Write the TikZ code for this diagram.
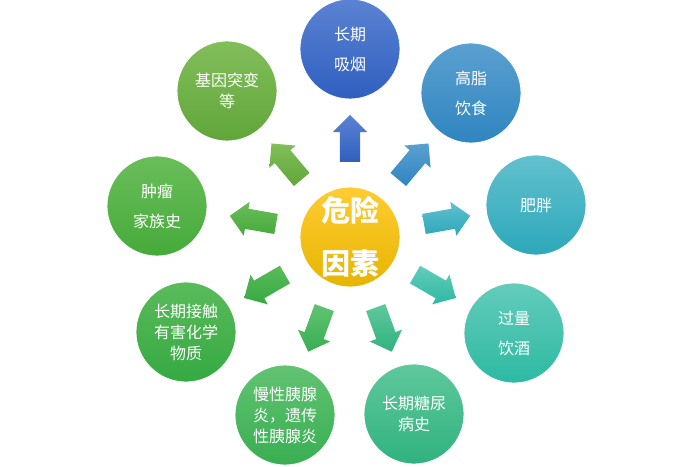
\documentclass[tikz,border=0pt]{standalone}
\usepackage{fontspec}
\newfontfamily\cjk{Noto Sans CJK SC}
\usetikzlibrary{shapes.arrows}
\definecolor{c0t}{HTML}{FFCC33}\definecolor{c0b}{HTML}{E6B500}
\definecolor{c1t}{HTML}{5B83D3}\definecolor{c1b}{HTML}{2F5FC0}
\definecolor{c2t}{HTML}{5AA0D0}\definecolor{c2b}{HTML}{2F85C0}
\definecolor{c3t}{HTML}{62C0CE}\definecolor{c3b}{HTML}{2CA8BA}
\definecolor{c4t}{HTML}{64CCBB}\definecolor{c4b}{HTML}{2DB9A2}
\definecolor{c5t}{HTML}{5FC89C}\definecolor{c5b}{HTML}{30B27E}
\definecolor{c6t}{HTML}{62C372}\definecolor{c6b}{HTML}{38AE52}
\definecolor{c7t}{HTML}{5ABB5A}\definecolor{c7b}{HTML}{35A942}
\definecolor{c8t}{HTML}{6ABE5A}\definecolor{c8b}{HTML}{45AA3A}
\definecolor{c9t}{HTML}{82BE5A}\definecolor{c9b}{HTML}{60A63A}
\tikzset{
  outer/.style={circle, minimum size=100pt, inner sep=0pt, draw=white, line width=0.8pt,
    text=white, align=center, font=\cjk\fontsize{16}{30}\selectfont},
  tight/.style={font=\cjk\fontsize{16}{21}\selectfont},
  arrowbox/.style={single arrow, single arrow head extend=7pt, minimum height=47pt,
    inner xsep=0pt, inner ysep=10pt, draw=none},
}
\begin{document}
\begin{tikzpicture}[x=1pt,y=1pt]
\useasboundingbox (0,0) rectangle (700,466);
\node[outer, top color=c0t, bottom color=c0b, font=\cjk\bfseries\fontsize{29}{53}\selectfont] (c) at (350,229) {危险\\因素};
\node[outer, top color=c1t, bottom color=c1b] (n1) at (350,417) {长期\\吸烟};
\node[outer, top color=c2t, bottom color=c2b] (n2) at (471,373) {高脂\\饮食};
\node[outer, top color=c3t, bottom color=c3b] (n3) at (536,261) {肥胖};
\node[outer, top color=c4t, bottom color=c4b] (n4) at (514,133) {过量\\饮酒};
\node[outer, tight, top color=c5t, bottom color=c5b] (n5) at (414,52) {长期糖尿\\病史};
\node[outer, tight, top color=c6t, bottom color=c6b] (n6) at (285,51) {慢性胰腺\\炎，遗传\\性胰腺炎};
\node[outer, tight, top color=c7t, bottom color=c7b] (n7) at (186,134) {长期接触\\有害化学\\物质};
\node[outer, top color=c8t, bottom color=c8b] (n8) at (157,260) {肿瘤\\家族史};
\node[outer, tight, top color=c9t, bottom color=c9b] (n9) at (227,375) {基因突变\\等};
\foreach \i/\a in {1/90,2/50,3/10,4/-30,5/-70,6/-110,7/-150,8/170,9/130}{
  \node[arrowbox, top color=c\i t, bottom color=c\i b, rotate=\a] (r\i) at ([shift={(\a:93.5)}]c.center) {};
}
\end{tikzpicture}
\end{document}
